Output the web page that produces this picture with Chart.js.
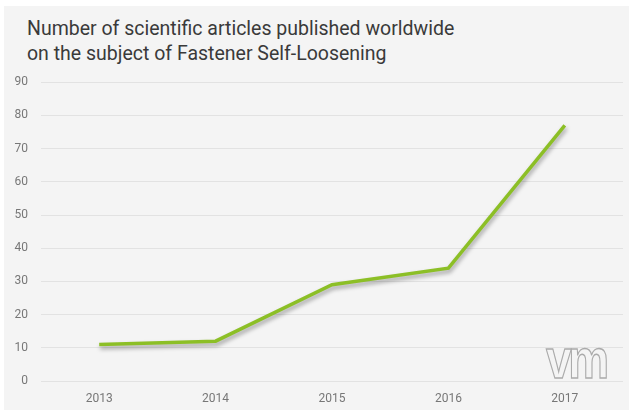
<!DOCTYPE html>
<html>
<head>
<meta charset="utf-8">
<script src="https://cdn.jsdelivr.net/npm/chart.js@4"></script>
<style>
  html, body { margin: 0; padding: 0; background: #fff; width: 629px; height: 410px; overflow: hidden; }
  #panel { position: absolute; left: 4px; top: 6px; width: 625px; height: 404px; background: #f4f4f4; }
  #title { position: absolute; left: 27px; top: 16px; font: 19.5px Roboto, sans-serif; line-height: 25px; color: #3a3a3a; }
  #wrap { position: absolute; left: 0; top: 62px; width: 629px; height: 348px; }
  #logo { position: absolute; left: 546px; top: 331px; font: bold 56px "Liberation Sans", sans-serif; color: transparent;
          -webkit-text-stroke: 1.3px #aaa; transform: scaleX(0.82); transform-origin: left top; letter-spacing: -4px; line-height: 56px; }
</style>
</head>
<body>
<div id="panel"></div>
<div id="title">Number of scientific articles published worldwide<br>on the subject of Fastener Self-Loosening</div>
<div id="wrap"><canvas id="chart"></canvas></div>
<div id="logo">vm</div>
<script>
/* ==== data ========================================================= */
const years = ['2013', '2014', '2015', '2016', '2017'];
const articles = [11, 12, 29, 34, 77];
const yMax = 90, yStep = 10;

/* ==== line shadow ================================================== */
const shadow = {
  id: 'shadow',
  beforeDatasetsDraw(c) {
    const ctx = c.ctx;
    ctx.save();
    ctx.shadowColor = 'rgba(0,0,0,0.35)';
    ctx.shadowBlur = 4;
    ctx.shadowOffsetX = 1;
    ctx.shadowOffsetY = 3;
  },
  afterDatasetsDraw(c) { c.ctx.restore(); }
};

/* ==== chart ======================================================== */
new Chart(document.getElementById('chart'), {
  type: 'line',
  data: {
    labels: years,
    datasets: [{
      data: articles,
      borderColor: '#8cbf26',
      borderWidth: 3.5,
      pointRadius: 0,
      tension: 0,
      fill: false
    }]
  },
  plugins: [shadow],
  options: {
    responsive: true, maintainAspectRatio: false,
    animation: false,
    layout: { padding: { top: 4, right: 6, left: 0, bottom: 0 } },
    plugins: { legend: { display: false }, tooltip: { enabled: false } },
    scales: {
      x: {
        offset: true,
        grid: { display: false, drawTicks: false },
        border: { display: false },
        ticks: { color: '#777', font: { family: 'Roboto', size: 12 }, padding: 11 },
        afterFit: s => { s.height = 29; }
      },
      y: {
        min: 0, max: yMax,
        grid: { color: '#e2e2e2', drawTicks: false },
        border: { display: false },
        ticks: { stepSize: yStep, color: '#777', font: { family: 'Roboto', size: 12 }, padding: 13 },
        afterFit: s => { s.width = 41; }
      }
    }
  }
});
</script>
</body>
</html>
